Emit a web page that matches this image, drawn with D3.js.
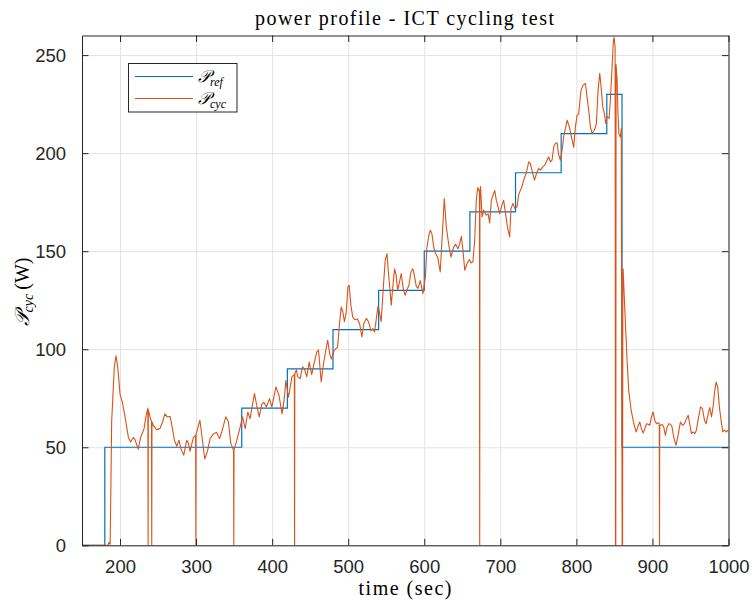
<!DOCTYPE html>
<html>
<head>
<meta charset="utf-8">
<script src="https://cdn.jsdelivr.net/npm/d3@7"></script>
<style>
  body { margin: 0; background: #fff; }
  svg { display: block; }
  .tick text { font-family: "Liberation Sans", Arial, sans-serif; font-size: 18.5px; fill: #262626; }
  .grid line { stroke: #e3e3e3; stroke-width: 1; }
  .grid path { display: none; }
  .serif { font-family: "Liberation Serif", "DejaVu Serif", serif; fill: #000; }
</style>
</head>
<body>
<svg id="chart" width="753" height="601"></svg>
<script>
// reference power steps (time, watts) - stairs
const refSteps = [
  [150, 0], [180, 50], [360, 70], [420, 90], [480, 110], [540, 130],
  [600, 150], [660, 170], [720, 190], [780, 210], [840, 230], [860, 50], [1000, 50]
];

const cycSamples = [
  [150,0],[184,0],[185.5,1.5],[187,0.5],[188,30],[189,63],[192.5,91],[194.7,96.6],[197,91],[200,77],
  [203,73],[206.6,65.5],[211,55],[214,52.7],[217.5,55],[219.5,54],[224,49],[227,55],[231.6,59.5],[234,65.5],
  [236.6,70],[236.9,0],[237.2,69],[239.5,65.5],[241.4,63],[241.7,0],[242,63],[243.8,61],[248,59],[252.5,59.5],
  [256,63],[259,67],[262,65.5],[265.8,65.7],[268,61.5],[271.5,53.6],[274.6,50.5],[277.5,53.6],[280,49.3],[283.8,46],
  [287.7,53.6],[290,52],[292,48],[296.5,55],[299.4,56],[299.7,0],[300,57],[301.5,58.7],[305,63.8],[307.6,56],
  [311.4,44],[315,48],[318.4,54.4],[322.8,56.8],[327,57.6],[330.7,54.4],[333.8,57.8],[339,65.5],[342.5,63],[345.6,52],
  [349.3,48.5],[349.6,0],[349.9,49],[352.4,52],[357,58.7],[361,65.5],[364.6,59.5],[368,68],[371,64.6],[374,71.4],
  [376.8,77.4],[380,70.8],[383,65.5],[386.4,72],[389,73],[392.5,70.6],[396.5,74.8],[399.6,70.6],[405,80.8],[409,76.5],
  [413,67],[415.7,74],[418,84],[421.5,75.5],[426,86],[429.2,87],[429.5,0],[429.8,87.5],[432,89.5],[433.5,86],
  [436.8,85],[439.9,91],[442.5,90],[445.5,86],[448.7,93.5],[452,87],[455,92.6],[458.8,98.6],[461,99.5],[464.5,83.3],
  [467.5,92.6],[470.6,99.5],[473,104.6],[476,97],[478,95],[481.6,99.5],[486,101],[488.6,113],[490.8,121.6],[493,119],
  [495,114],[497.5,119],[499.6,131.8],[501.3,132.6],[503.5,122.4],[506,116.4],[509,115],[512,115.4],[515,113],[518,106.3],
  [520.5,113],[523.7,115.7],[526.8,114],[529.8,109.5],[532.5,110.5],[534.6,108.8],[536.8,115],[539,121.6],[541,119],[543.3,114],
  [546.5,133.5],[548.7,145.4],[551,148.8],[553,138.6],[555.3,128.4],[556.6,122.5],[558.7,132],[561,141],[563,137.8],[565,130],
  [567,133.5],[569.7,138.6],[572.7,130],[575,127.5],[577,130],[579.8,132.6],[582.5,139.4],[585,141],[587.4,136.8],[589.5,132],
  [591.7,131],[594.7,135],[598.3,128.4],[601.5,137],[603.5,152],[606,158],[608,160.7],[610,159],[612.5,152],[614.7,149],
  [617.8,146.6],[621,139.4],[623.3,155.5],[626.3,176.9],[629,162.4],[632,153.8],[635,147],[638.6,152],[641.2,153.5],[644.3,151.2],
  [646.5,153.8],[648.7,157.6],[650.9,150.4],[653.2,140.3],[656.3,143.7],[659.3,145.7],[661.5,144],[664,144.6],[666.3,155.6],[668.4,176],
  [670.2,182.5],[672.6,180],[672.9,0],[673.2,181],[674,183],[676,167.5],[678.2,171],[681.3,168.4],[684,169],[686,164.4],
  [688.2,176],[690.4,178.6],[692.6,181],[694.7,176],[697,172.6],[699.2,169],[701.4,172.6],[704.4,176],[707.5,167.5],[709.7,161.6],
  [712.3,157.3],[714,171.8],[716.7,174.4],[718.9,171.8],[722,172.6],[724,178.6],[726.3,181],[728.5,183],[730.7,186.2],[733,188.8],
  [735,191.3],[737.3,195.6],[739.5,194.7],[742.6,189.6],[745,186.2],[747.5,189.6],[750.5,192.2],[752.8,191.3],[755.8,193],[758.5,193.9],
  [761.4,196.4],[763.6,198.1],[765.8,195.6],[768,196.4],[770.2,203.2],[772.4,205],[774.6,205.3],[776.8,199],[779,196.4],[781.2,201.5],
  [783.3,208.3],[787.8,216.8],[790.8,213.4],[793.5,208.3],[796.5,203],[798.7,213.4],[801,219.4],[803,220],[806,232],[808.8,234.7],
  [811.9,235.5],[814,228.7],[816.2,222],[818.4,213.4],[820.6,210],[823.6,211.7],[826.3,215.1],[828.5,232],[830.7,240.7],[832.5,233.8],
  [834.7,223.6],[836.9,220],[838.6,215.1],[840.4,218.6],[843,217.7],[844.7,227],[846.5,240.7],[848.7,257.6],[849.6,259],[850.9,254],
  [851.4,0],[851.8,0],[852.2,245],[853.6,237],[854.7,220],[856,209.6],[857.9,208.3],[859,212.6],[860.2,0],[860.7,0],
  [861.1,140.3],[861.4,141],[864.5,113],[866.7,94],[868.8,79],[872,68.9],[875.5,62],[878.5,57.8],[880.7,60.3],[883.3,62.9],
  [885.5,59.5],[887.8,57.3],[890,59.5],[892.2,62],[894.4,61.7],[896.5,61.2],[898.7,65.5],[900.9,68],[903,63.8],[905.3,62],
  [907.5,62.5],[909,62],[909.3,0],[909.6,61],[910.5,61.2],[912.7,61.6],[914.9,60.3],[917,56.1],[919.3,60.3],[921.5,62],
  [923.7,61.7],[925.8,60.3],[928,55.2],[931,51],[933.7,56.1],[936.8,62.9],[939.5,61.2],[942,62],[944.7,64.6],[947,66.3],
  [949,62],[951.3,57],[953.5,57.8],[955.7,57],[957.8,58.7],[960,63.8],[963.2,70.6],[965.8,69.7],[968.4,63.8],[970.6,62],
  [973.2,67],[975.4,70.2],[977.6,65.5],[979.7,70.6],[982,79],[983.7,83.3],[985.8,80.8],[988,70.6],[990.2,63.8],[992.5,57.8],
  [995,58.7],[997.2,57.8],[1000,59]
];

const xTicks = [200, 300, 400, 500, 600, 700, 800, 900, 1000];
const yTicks = [0, 50, 100, 150, 200, 250];

const refColor = '#0072BD';
const cycColor = '#D95319';
const axisColor = '#262626';

const svg = d3.select('#chart');

const plotLeft = 82, plotRight = 728.5, plotTop = 35.5, plotBottom = 545.3;
const plotW = plotRight - plotLeft;
const plotH = plotBottom - plotTop;
const tickLen = 6.5;

const x = d3.scaleLinear().domain([150, 1000]).range([plotLeft, plotRight]);
const y = d3.scaleLinear().domain([0, 260]).range([plotBottom, plotTop]);

// grid
svg.append('g')
  .attr('class', 'grid')
  .attr('transform', `translate(0, ${plotBottom})`)
  .call(d3.axisBottom(x).tickValues(xTicks).tickSize(-plotH).tickFormat(''));

svg.append('g')
  .attr('class', 'grid')
  .attr('transform', `translate(${plotLeft}, 0)`)
  .call(d3.axisLeft(y).tickValues(yTicks).tickSize(-plotW).tickFormat(''));

// data
svg.append('clipPath').attr('id', 'plotClip')
  .append('rect')
  .attr('x', plotLeft).attr('y', plotTop - 1)
  .attr('width', plotW).attr('height', plotH + 1);

const plot = svg.append('g').attr('clip-path', 'url(#plotClip)');

plot.append('path')
  .datum(refSteps)
  .attr('fill', 'none')
  .attr('stroke', refColor)
  .attr('stroke-width', 1.2)
  .attr('d', d3.line().curve(d3.curveStepAfter)
    .x(d => x(d[0]))
    .y(d => y(d[1])));

plot.append('path')
  .datum(cycSamples)
  .attr('fill', 'none')
  .attr('stroke', cycColor)
  .attr('stroke-width', 1.1)
  .attr('stroke-linejoin', 'round')
  .attr('d', d3.line()
    .x(d => x(d[0]))
    .y(d => y(d[1])));

// axes (ticks inside, box on)
const styleAxis = g => {
  g.select('.domain').attr('stroke', axisColor);
  g.selectAll('.tick line').attr('stroke', axisColor);
};

svg.append('g')
  .attr('transform', `translate(0, ${plotBottom})`)
  .call(d3.axisBottom(x).tickValues(xTicks).tickFormat(d3.format('d'))
    .tickSizeInner(-tickLen).tickSizeOuter(0).tickPadding(15))
  .call(styleAxis);

svg.append('g')
  .attr('transform', `translate(0, ${plotTop})`)
  .call(d3.axisTop(x).tickValues(xTicks).tickSizeInner(-tickLen).tickSizeOuter(0).tickFormat(''))
  .call(styleAxis);

svg.append('g')
  .attr('transform', `translate(${plotLeft}, 0)`)
  .call(d3.axisLeft(y).tickValues(yTicks).tickSizeInner(-tickLen).tickSizeOuter(0).tickPadding(16))
  .call(styleAxis);

svg.append('g')
  .attr('transform', `translate(${plotRight}, 0)`)
  .call(d3.axisRight(y).tickValues(yTicks).tickSizeInner(-tickLen).tickSizeOuter(0).tickFormat(''))
  .call(styleAxis);

// title and labels
svg.append('text')
  .attr('class', 'serif')
  .attr('x', 404.5)
  .attr('y', 25)
  .attr('text-anchor', 'middle')
  .attr('font-size', 20)
  .attr('textLength', 299)
  .attr('lengthAdjust', 'spacing')
  .text('power profile - ICT cycling test');

svg.append('text')
  .attr('class', 'serif')
  .attr('x', 405)
  .attr('y', 595)
  .attr('text-anchor', 'middle')
  .attr('font-size', 20)
  .attr('textLength', 93)
  .attr('lengthAdjust', 'spacing')
  .text('time (sec)');

const yLabel = svg.append('text')
  .attr('class', 'serif')
  .attr('transform', 'translate(29, 292) rotate(-90)')
  .attr('text-anchor', 'middle')
  .attr('font-size', 20);
yLabel.append('tspan').attr('font-style', 'italic').text('𝒫');
yLabel.append('tspan').attr('font-style', 'italic').attr('font-size', 14).attr('dy', 4).text('cyc');
yLabel.append('tspan').attr('dy', -4).attr('dx', 4).text('(W)');

// legend
const legend = svg.append('g');
legend.append('rect')
  .attr('x', 128.5).attr('y', 63.5)
  .attr('width', 108.5).attr('height', 48.5)
  .attr('fill', '#fff')
  .attr('stroke', axisColor)
  .attr('stroke-width', 1);

const legendItems = [
  { name: 'ref', color: refColor, y: 76.5 },
  { name: 'cyc', color: cycColor, y: 98.5 }
];

legendItems.forEach(item => {
  legend.append('line')
    .attr('x1', 135).attr('x2', 193)
    .attr('y1', item.y).attr('y2', item.y)
    .attr('stroke', item.color)
    .attr('stroke-width', 1.2);
  const t = legend.append('text')
    .attr('class', 'serif')
    .attr('x', 198)
    .attr('y', item.y + 5)
    .attr('font-size', 17);
  t.append('tspan').attr('font-style', 'italic').text('𝒫');
  t.append('tspan').attr('font-style', 'italic').attr('font-size', 12).attr('dy', 4).text(item.name);
});
</script>
</body>
</html>
